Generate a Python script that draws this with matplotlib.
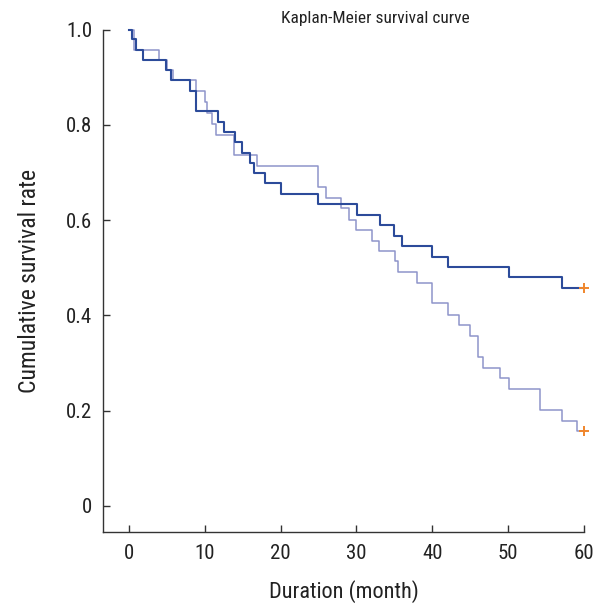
import matplotlib
matplotlib.use("Agg")
import matplotlib.pyplot as plt
from matplotlib import font_manager

# pick a narrow font if one is there
names = set(f.name for f in font_manager.fontManager.ttflist)
fam = "DejaVu Sans"
for n in ["Liberation Sans Narrow", "Roboto Condensed", "DejaVu Sans Condensed", "Liberation Sans"]:
    if n in names:
        fam = n
        break
plt.rcParams['font.family'] = [fam, 'DejaVu Sans']

# dark curve (months, survival)
dark_t = [0, 0.4, 0.9, 1.9, 4.9, 5.6, 8.0, 8.9, 11.8, 12.5, 14.0, 14.9, 16.0, 16.5,
          17.9, 20.0, 25.0, 30.1, 33.1, 35.0, 36.0, 40.0, 42.1, 50.1, 57.1, 60]
dark_s = [1.0, 0.980, 0.958, 0.937, 0.915, 0.893, 0.871, 0.829, 0.806, 0.785, 0.764,
          0.741, 0.720, 0.698, 0.677, 0.655, 0.633, 0.610, 0.589, 0.566, 0.546, 0.523,
          0.501, 0.480, 0.458, 0.458]

# light curve
light_t = [0, 0.7, 4.0, 5.0, 5.8, 8.9, 10.0, 10.3, 10.9, 11.5, 13.8, 16.9, 25.0, 26.0,
           28.0, 29.0, 30.0, 32.1, 33.0, 35.1, 35.5, 38.0, 40.0, 42.1, 43.6, 45.0, 46.0,
           46.7, 49.0, 50.1, 54.2, 57.1, 59.1, 60]
light_s = [1.0, 0.958, 0.937, 0.915, 0.893, 0.871, 0.848, 0.824, 0.802, 0.778, 0.736,
           0.714, 0.669, 0.646, 0.625, 0.601, 0.579, 0.556, 0.534, 0.514, 0.491, 0.468,
           0.425, 0.401, 0.379, 0.356, 0.312, 0.290, 0.269, 0.246, 0.201, 0.179, 0.157,
           0.157]

# censored at end
cens_t = [60, 60]
cens_s = [0.458, 0.157]

xticks = [0, 10, 20, 30, 40, 50, 60]
yticks = [0, 0.2, 0.4, 0.6, 0.8, 1.0]
ylabs = ["0", "0.2", "0.4", "0.6", "0.8", "1.0"]

fig = plt.figure(figsize=(6, 6.05), dpi=100)
ax = fig.add_axes([0.172, 0.1207, 0.801, 0.8305])

ax.step(light_t, light_s, where='post', color='#8e94ca', lw=1.1, clip_on=False, zorder=2)
ax.step(dark_t, dark_s, where='post', color='#2c4b9a', lw=1.5, clip_on=False, zorder=3)
ax.plot(cens_t, cens_s, '+', color='#f0862c', ms=7, mew=1.4, clip_on=False, zorder=4)

ax.set_xlim(-3.4, 60)
ax.set_ylim(-0.055, 1.0)
ax.set_xticks(xticks)
ax.set_yticks(yticks)
ax.set_yticklabels(ylabs)

for s in ['top', 'right']:
    ax.spines[s].set_visible(False)
for s in ['left', 'bottom']:
    ax.spines[s].set_color('#333333')
    ax.spines[s].set_linewidth(1.0)

ax.tick_params(axis='both', direction='in', length=5, width=1, color='#333333',
               labelsize=15, labelcolor='#222222')
ax.tick_params(axis='x', pad=9)
ax.tick_params(axis='y', pad=8)

ax.set_xlabel("Duration (month)", fontsize=16, color='#222222', labelpad=12)
ax.set_ylabel("Cumulative survival rate", fontsize=17, color='#222222', labelpad=18)

# title sits a bit right of the axes centre
fig.text(375 / 600, 1 - 18 / 605, "Kaplan-Meier survival curve", fontsize=12.5,
         color='#222222', ha='center', va='center')

fig.savefig("out.png", dpi=100)
